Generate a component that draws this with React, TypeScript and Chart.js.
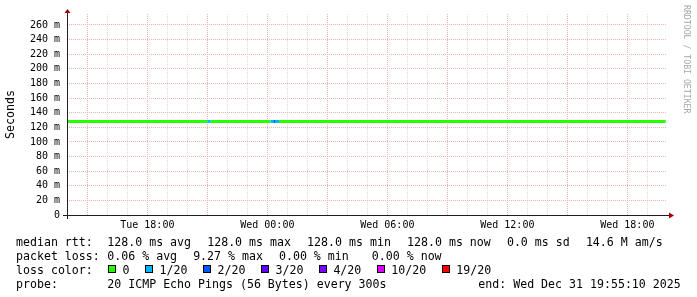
import React, { useEffect, useRef } from "react";
import { Chart, registerables } from "chart.js";

Chart.register(...registerables);

// ---------- data ----------
const windowStart = "Tue 13:59";
const windowHours = 30;
// sample times (each value applies from this time to the next)
const sampleTimes = ["Tue 13:59", "Tue 21:00", "Tue 21:10", "Wed 00:10", "Wed 00:20", "Wed 00:25", "Wed 00:35", "Wed 19:55"];
const medianRttMs = [128, 128, 128, 128, 128, 128, 128, 128];
const lostPings = [0, 1, 0, 1, 2, 1, 0, 0]; // of 20 pings
const lossLevels = [0, 1, 2, 3, 4, 10, 19];
const lossLabels = ["0", "1/20", "2/20", "3/20", "4/20", "10/20", "19/20"];
const lossColors = ["#26ff00", "#00b8ff", "#0059ff", "#5e00ff", "#7e00ff", "#dd00ff", "#ff0000"];
const xLabelTimes = ["Tue 18:00", "Wed 00:00", "Wed 06:00", "Wed 12:00", "Wed 18:00"];
const yMaxMs = 275;
const yGridStepMs = 10;
const yLabelStepMs = 20;
const rttStats = ["128.0 ms avg", "128.0 ms max", "128.0 ms min", "128.0 ms now", "0.0 ms sd", "14.6 M am/s"];
const lossStats = ["0.06 % avg", "9.27 % max", "0.00 % min", " 0.00 % now"];
const probeText = "20 ICMP Echo Pings (56 Bytes) every 300s";
const endText = "end: Wed Dec 31 19:55:10 2025";
const watermark = "RRDTOOL / TOBI OETIKER";

// ---------- helpers ----------
const MONO = "'DejaVu Sans Mono', monospace";
const MINOR = "#dcdcdc";
const MAJOR = "#efb2b2";

function toHours(s: string): number {
  const [d, hm] = s.split(" ");
  const [h, m] = hm.split(":").map(Number);
  return (d === "Wed" ? 24 : 0) + h + m / 60;
}

function colorForLoss(n: number): string {
  let c = lossColors[0];
  for (let i = 0; i < lossLevels.length; i++) if (n >= lossLevels[i]) c = lossColors[i];
  return c;
}

const xMin = toHours(windowStart);
const xMax = xMin + windowHours;
const xLabelMap: Record<number, string> = {};
xLabelTimes.forEach((t) => (xLabelMap[Math.round(toHours(t))] = t));

const axesPlugin = {
  id: "rrdAxes",
  afterDatasetsDraw(chart: any) {
    const { ctx, chartArea } = chart;
    const { left, right, top, bottom } = chartArea;
    ctx.save();
    ctx.strokeStyle = "#202020";
    ctx.lineWidth = 1;
    ctx.beginPath();
    ctx.moveTo(left - 4, bottom + 0.5);
    ctx.lineTo(right + 2, bottom + 0.5);
    ctx.stroke();
    ctx.beginPath();
    ctx.moveTo(left + 0.5, bottom + 4);
    ctx.lineTo(left + 0.5, top - 1);
    ctx.stroke();
    ctx.fillStyle = "#a00000";
    ctx.beginPath();
    ctx.moveTo(left + 0.5, top - 5);
    ctx.lineTo(left - 2.5, top - 1);
    ctx.lineTo(left + 3.5, top - 1);
    ctx.closePath();
    ctx.fill();
    ctx.beginPath();
    ctx.moveTo(right + 7, bottom + 0.5);
    ctx.lineTo(right + 2, bottom - 2.5);
    ctx.lineTo(right + 2, bottom + 3.5);
    ctx.closePath();
    ctx.fill();
    ctx.restore();
  },
};

const LEG_FS = 11.6;
const CH = 0.60205 * LEG_FS;
const rowTops = [234.5, 248.5, 262.5, 276.5];

const textStyle = (left: number, top: number): React.CSSProperties => ({
  position: "absolute",
  left,
  top,
  fontFamily: MONO,
  fontSize: LEG_FS,
  lineHeight: "14px",
  whiteSpace: "pre",
  color: "#000",
  margin: 0,
});

export default function App() {
  const ref = useRef<HTMLCanvasElement>(null);

  useEffect(() => {
    const hourTicks: number[] = [];
    for (let h = Math.ceil(xMin); h <= xMax; h++) hourTicks.push(h);
    const yTicks: number[] = [];
    for (let v = 0; v <= yMaxMs; v += yGridStepMs) yTicks.push(v);

    const chart = new Chart(ref.current as HTMLCanvasElement, {
      type: "line",
      data: {
        datasets: [
          {
            data: sampleTimes.map((t, i) => ({ x: toHours(t), y: medianRttMs[i] })),
            borderColor: lossColors[0],
            borderWidth: 3,
            pointRadius: 0,
            tension: 0,
            borderCapStyle: "butt",
            segment: {
              borderColor: (c: any) => colorForLoss(lostPings[c.p0DataIndex]),
            },
          } as any,
        ],
      },
      options: {
        animation: false,
        responsive: false,
        maintainAspectRatio: false,
        events: [],
        layout: { padding: { top: 14, right: 30, left: 0, bottom: 0 } },
        plugins: { legend: { display: false }, tooltip: { enabled: false } },
        scales: {
          x: {
            type: "linear",
            min: xMin,
            max: xMax,
            afterBuildTicks: (s: any) => {
              s.ticks = hourTicks.map((v) => ({ value: v }));
            },
            afterFit: (s: any) => {
              s.height = 82;
              s.paddingLeft = 0;
              s.paddingRight = 0;
            },
            ticks: {
              autoSkip: false,
              maxRotation: 0,
              minRotation: 0,
              padding: 4,
              color: "#000",
              font: { family: MONO, size: 10 },
              callback: (v: any) => xLabelMap[Math.round(Number(v))] ?? "",
            },
            grid: {
              drawTicks: false,
              lineWidth: 1,
              color: (c: any) => (c.tick && Math.round(c.tick.value) % 3 === 0 ? MAJOR : MINOR),
            },
            border: { display: false, dash: [1, 1] },
          },
          y: {
            type: "linear",
            min: 0,
            max: yMaxMs,
            afterBuildTicks: (s: any) => {
              s.ticks = yTicks.map((v) => ({ value: v }));
            },
            afterFit: (s: any) => {
              s.width = 67;
              s.paddingTop = 0;
              s.paddingBottom = 0;
            },
            ticks: {
              padding: 7,
              color: "#000",
              font: { family: MONO, size: 10 },
              callback: (v: any) => {
                const n = Number(v);
                if (n % yLabelStepMs !== 0) return "";
                return n === 0 ? "0" : `${n} m`;
              },
            },
            grid: {
              drawTicks: false,
              lineWidth: 1,
              color: (c: any) => {
                const v = c.tick ? c.tick.value : 0;
                if (v === 0) return "rgba(0,0,0,0)";
                return v % yLabelStepMs === 0 ? MAJOR : MINOR;
              },
            },
            border: { display: false, dash: [1, 1] },
            title: {
              display: true,
              text: "Seconds",
              color: "#000",
              font: { family: MONO, size: 11.6 },
              padding: { top: 4, bottom: 4 },
            },
          },
        },
      } as any,
      plugins: [axesPlugin],
    });
    return () => chart.destroy();
  }, []);

  // legend layout
  const row1: { x: number; t: string }[] = [];
  let x = 107.3;
  rttStats.forEach((t) => {
    row1.push({ x, t });
    x += t.length * CH + 16.1;
  });
  const row2: { x: number; t: string }[] = [];
  x = 107.3;
  lossStats.forEach((t) => {
    row2.push({ x, t });
    x += t.length * CH + 16;
  });
  const row3: { x: number; t: string; c: string }[] = [];
  x = 108.3;
  lossLabels.forEach((t, i) => {
    row3.push({ x, t, c: lossColors[i] });
    x = x + 14.3 + t.length * CH + 15.7;
  });

  return (
    <div
      style={{
        position: "fixed",
        left: 0,
        top: 0,
        width: 697,
        height: 297,
        background: "#fff",
        overflow: "hidden",
      }}
    >
      <canvas
        ref={ref}
        width={697}
        height={297}
        style={{ position: "absolute", left: 0, top: 0, width: 697, height: 297 }}
      />
      <div
        style={{
          position: "absolute",
          left: 681.5,
          top: 5,
          writingMode: "vertical-rl",
          fontFamily: MONO,
          fontSize: 8.2,
          lineHeight: "10px",
          whiteSpace: "pre",
          color: "#a8a8a8",
        }}
      >
        {watermark}
      </div>

      <span style={textStyle(16, rowTops[0])}>median rtt:</span>
      {row1.map((r, i) => (
        <span key={"r1" + i} style={textStyle(r.x, rowTops[0])}>
          {r.t}
        </span>
      ))}

      <span style={textStyle(16, rowTops[1])}>packet loss:</span>
      {row2.map((r, i) => (
        <span key={"r2" + i} style={textStyle(r.x, rowTops[1])}>
          {r.t}
        </span>
      ))}

      <span style={textStyle(16, rowTops[2])}>loss color:</span>
      {row3.map((r, i) => (
        <React.Fragment key={"r3" + i}>
          <span
            style={{
              position: "absolute",
              left: r.x,
              top: 265,
              width: 6,
              height: 6,
              border: "1px solid #000",
              background: r.c,
            }}
          />
          <span style={textStyle(r.x + 14.3, rowTops[2])}>{r.t}</span>
        </React.Fragment>
      ))}

      <span style={textStyle(16, rowTops[3])}>probe:</span>
      <span style={textStyle(107.3, rowTops[3])}>{probeText}</span>
      <span style={textStyle(478.3, rowTops[3])}>{endText}</span>
    </div>
  );
}
